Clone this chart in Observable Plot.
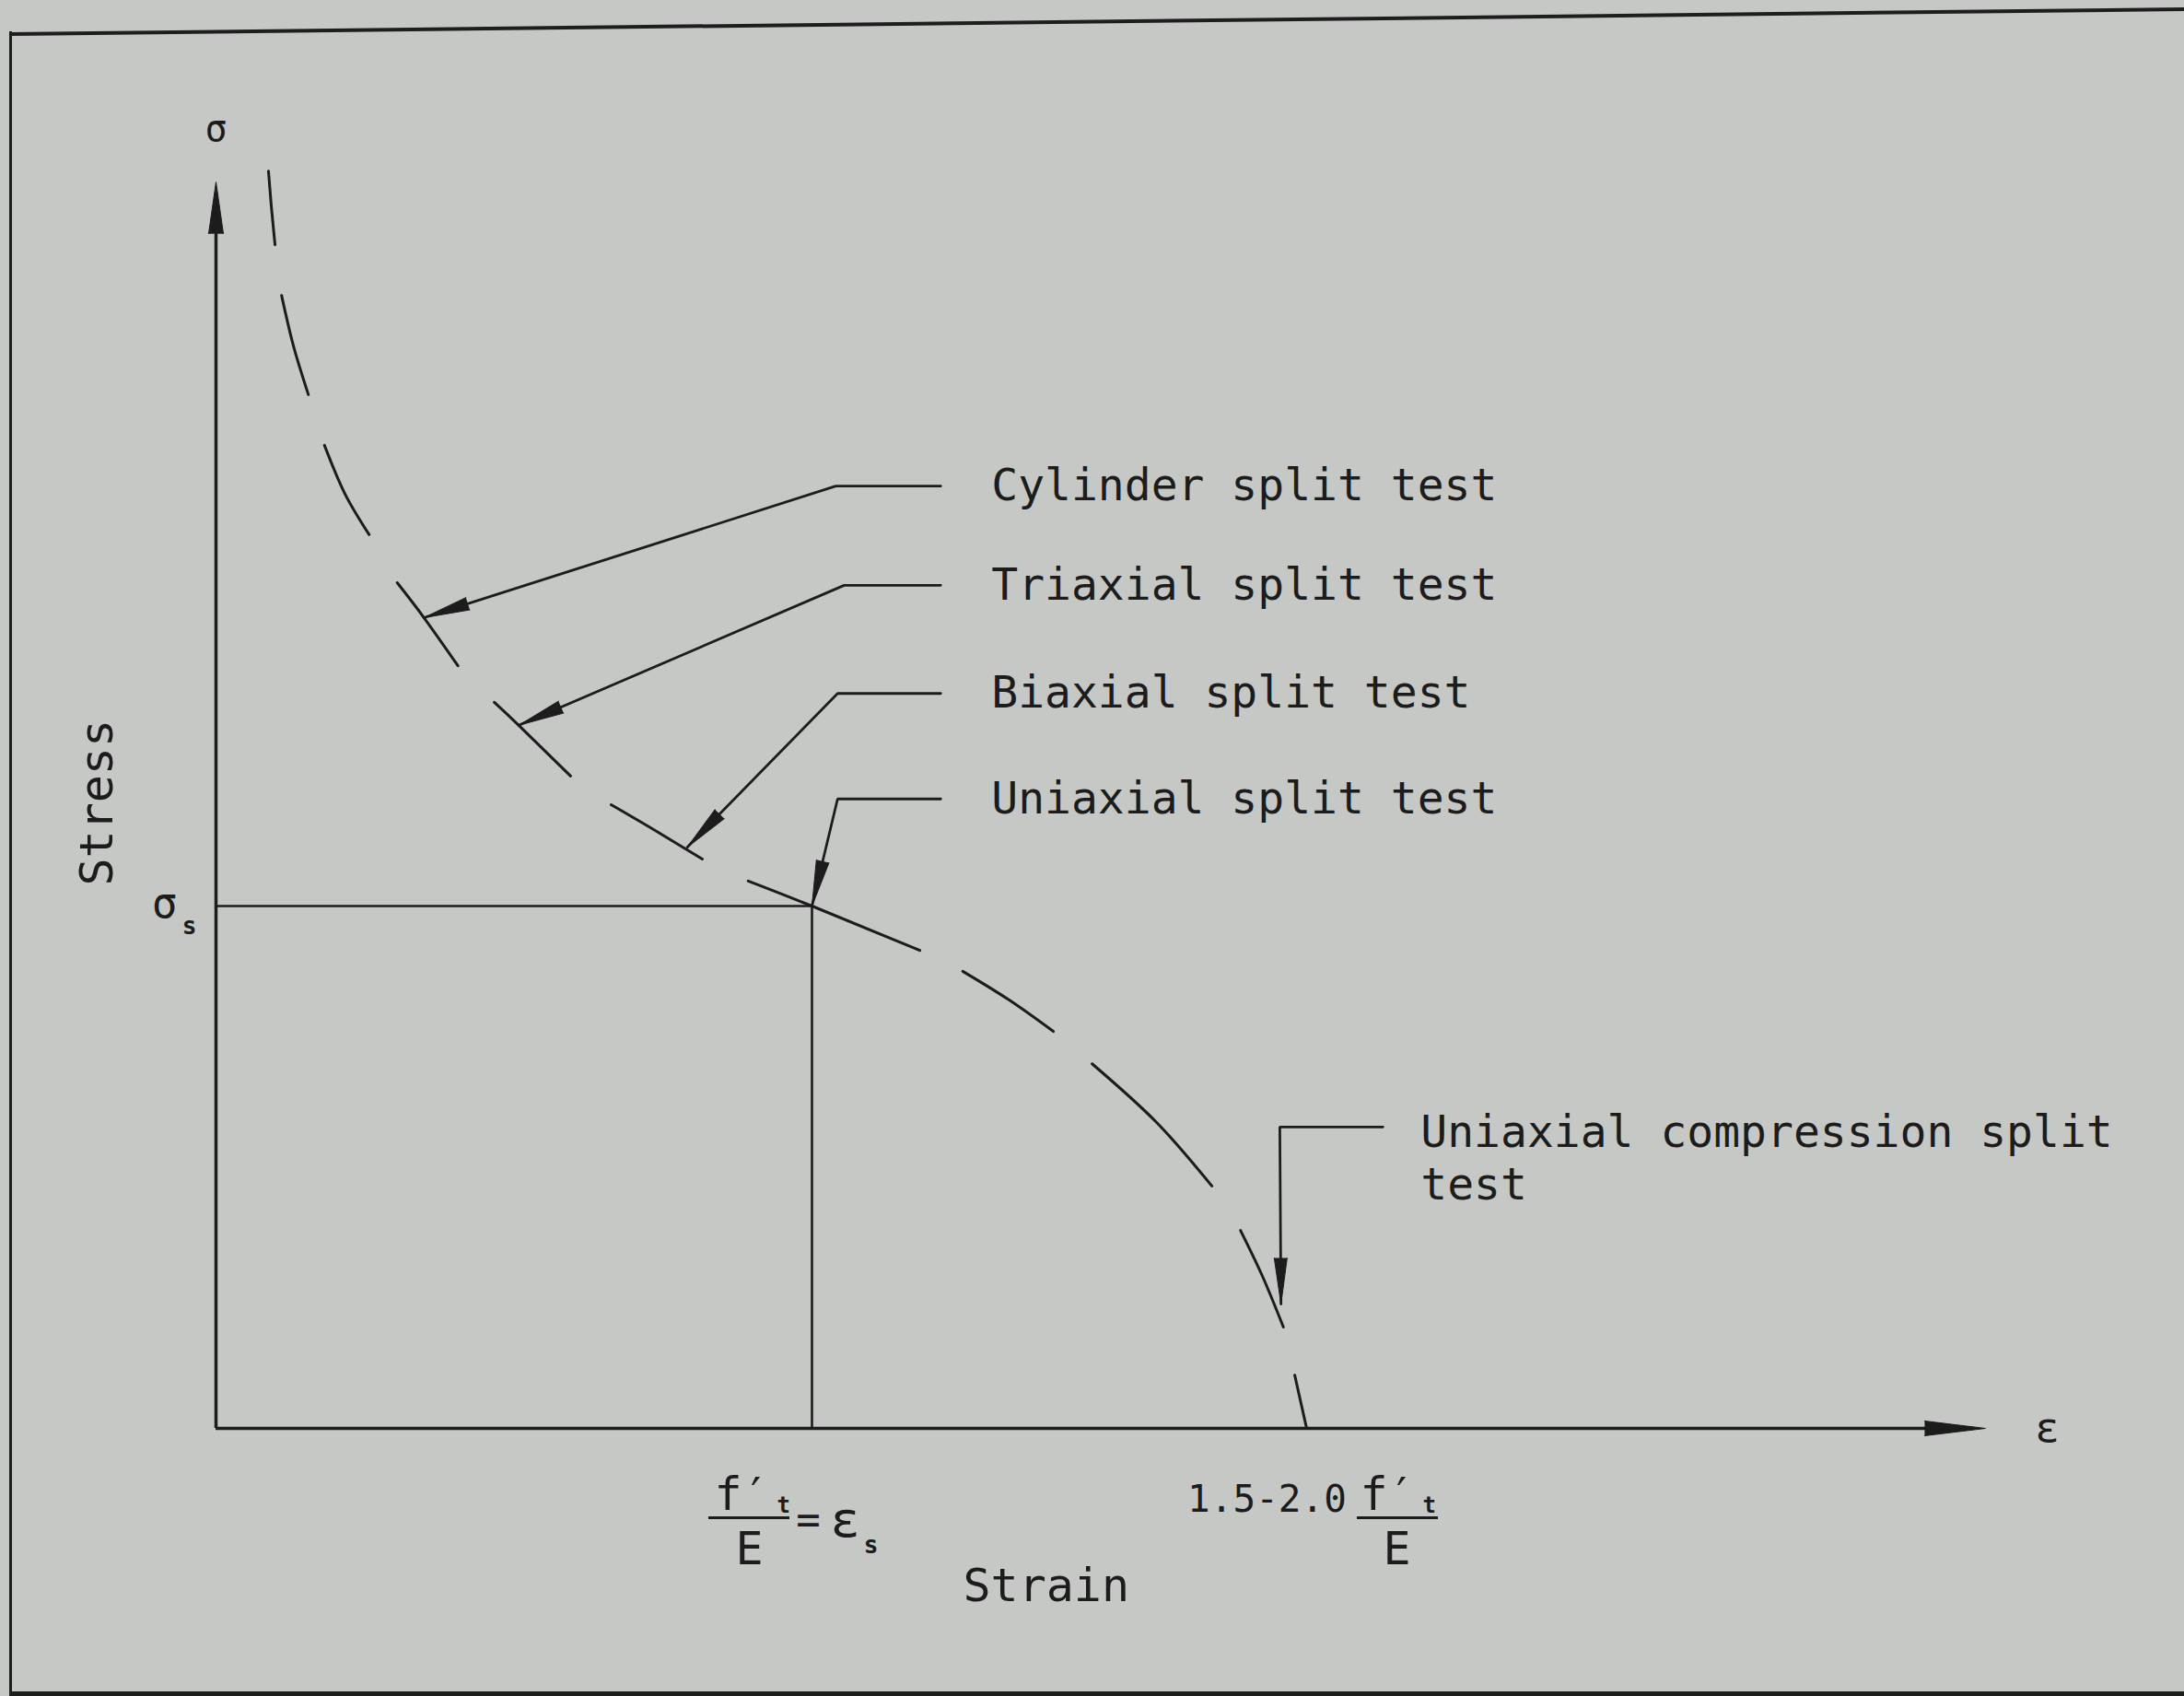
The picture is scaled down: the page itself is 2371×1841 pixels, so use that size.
<!DOCTYPE html>
<html>
<head>
<meta charset="utf-8">
<script src="https://cdn.jsdelivr.net/npm/d3@7"></script>
<script src="https://cdn.jsdelivr.net/npm/@observablehq/plot@0.6"></script>
<style>
  html, body { margin: 0; padding: 0; background: #c6c8c6; }
  #page { position: relative; width: 2371px; height: 1841px; overflow: hidden; background: #c6c8c6; }
  #chart { position: absolute; left: 0; top: 0; }
  .frame-left { position: absolute; left: 10px; top: 34px; width: 3px; height: 1807px; background: #1e1e1e; }
  .frame-top { position: absolute; left: 10px; top: 35px; width: 2420px; height: 4px; background: #1e1e1e; transform-origin: 0 0; transform: rotate(-0.656deg); }
  .frame-bottom { position: absolute; left: 10px; top: 1836px; width: 2371px; height: 5px; background: #1e1e1e; }
  g[aria-label="stress-title"] text { letter-spacing: 8px; }
</style>
</head>
<body>
<div id="page">
  <div class="frame-left"></div>
  <div class="frame-top"></div>
  <div class="frame-bottom"></div>
  <div id="chart"></div>
</div>
<script>
// ---- Data (strain in units of f't/E, stress in units of σs) ----
const sigmaS = 1;          // splitting stress σs
const epsS = 1;            // εs = f't/E
const strainAtZero = 1.83; // 1.5–2.0 f't/E
const yAxisTop = 2.386;
const xAxisEnd = 2.969;

// dashed stress–strain curve, one id per dash
const curveDash   = [1,1,1, 2,2,2, 3,3,3, 4,4,4, 5,5,5, 6,6,6, 7,7,7, 8,8,8, 9,9,9, 10,10,10, 11,11];
const curveStrain = [0.088,0.093,0.099, 0.110,0.130,0.155, 0.182,0.216,0.257, 0.304,0.349,0.406,
                     0.467,0.508,0.595, 0.663,0.735,0.816, 0.893,1.000,1.181, 1.253,1.331,1.405,
                     1.470,1.578,1.671, 1.719,1.756,1.791, 1.810,1.830];
const curveStress = [2.407,2.337,2.266, 2.169,2.072,1.979, 1.882,1.790,1.711, 1.619,1.552,1.460,
                     1.390,1.346,1.249, 1.194,1.146,1.090, 1.048,1.000,0.915, 0.875,0.820,0.760,
                     0.698,0.586,0.464, 0.379,0.291,0.194, 0.102,0.000];

// callouts: test names pointing at points of the curve
const calloutLabels = ["Cylinder split test", "Triaxial split test", "Biaxial split test",
                       "Uniaxial split test", "Uniaxial compression split\ntest"];
const calloutTipStrain   = [0.349, 0.508, 0.791, 1.000, 1.787];
const calloutTipStress   = [1.552, 1.346, 1.113, 1.000, 0.238];
const calloutElbowStrain = [1.040, 1.054, 1.043, 1.043, 1.785];
const calloutElbowStress = [1.804, 1.614, 1.407, 1.205, 0.577];
const calloutEndStrain   = [1.216, 1.216, 1.216, 1.216, 1.958];

// ---- Layout (pixels) ----
const W = 2371, H = 1841;
const X0 = 234, Y0 = 1550, KX = 647, KY = 567;
const ink = "#1c1c1c";
const font = "'DejaVu Sans Mono', monospace";

// tables built from the arrays
const curve = curveDash.map((d, i) => ({dash: d, strain: curveStrain[i], stress: curveStress[i]}));
const callouts = calloutLabels.map((t, i) => ({
  label: t, i,
  tx: calloutTipStrain[i], ty: calloutTipStress[i],
  ex: calloutElbowStrain[i], ey: calloutElbowStress[i],
  sx: calloutEndStrain[i]
}));
const leaders = callouts.flatMap(c => [
  {id: c.i, x: c.tx, y: c.ty},
  {id: c.i, x: c.ex, y: c.ey},
  {id: c.i, x: c.sx, y: c.ey}
]);
const angle = c => Math.atan2((c.tx - c.ex) * KX, (c.ty - c.ey) * KY) * 180 / Math.PI;

const T = (text, x, y, o) => Plot.text([text], {x: () => x, y: () => y, text: d => d,
  fontFamily: font, fill: ink, ...o});

const chart = Plot.plot({
  width: W, height: H,
  margin: 0,
  style: {background: "transparent", fontFamily: font, color: ink},
  x: {domain: [0, (W - X0) / KX], range: [X0, W], axis: null},
  y: {domain: [0, Y0 / KY], range: [Y0, 0], axis: null},
  marks: [
    // axes
    Plot.ruleY([0], {x1: 0, x2: xAxisEnd - 0.02, stroke: ink, strokeWidth: 3.5}),
    Plot.ruleX([0], {y1: 0, y2: yAxisTop - 0.02, stroke: ink, strokeWidth: 3.5}),
    Plot.vector([{x: xAxisEnd, y: 0, r: 90}], {x: "x", y: "y", rotate: "r", length: 66, r: 8,
      shape: "spike", anchor: "end", fill: ink, stroke: ink, strokeWidth: 1}),
    Plot.vector([{x: 0, y: yAxisTop, r: 0}], {x: "x", y: "y", rotate: "r", length: 56, r: 8,
      shape: "spike", anchor: "end", fill: ink, stroke: ink, strokeWidth: 1}),
    // σs / εs guides
    Plot.ruleY([sigmaS], {x1: 0, x2: epsS, stroke: ink, strokeWidth: 2.6}),
    Plot.ruleX([epsS], {y1: 0, y2: sigmaS, stroke: ink, strokeWidth: 2.6}),
    // dashed curve
    Plot.line(curve, {x: "strain", y: "stress", z: "dash", curve: "natural",
      stroke: ink, strokeWidth: 3, strokeLinecap: "round"}),
    // leaders
    Plot.line(leaders, {x: "x", y: "y", z: "id", stroke: ink, strokeWidth: 2.8, strokeLinejoin: "miter"}),
    Plot.vector(callouts, {x: "tx", y: "ty", rotate: angle, length: 50, r: 7,
      shape: "spike", anchor: "end", fill: ink, stroke: ink, strokeWidth: 1}),
    Plot.text(callouts.slice(0, 4), {x: "sx", y: "ey", text: "label", dx: 55,
      textAnchor: "start", lineAnchor: "middle", fontSize: 48, fontFamily: font, fill: ink}),
    Plot.text(callouts.slice(4), {x: "sx", y: "ey", text: "label", dx: 41, dy: -19,
      textAnchor: "start", lineAnchor: "top", lineHeight: 1.19, fontSize: 48, fontFamily: font, fill: ink}),
    // axis symbols and titles
    T("σ", 0, yAxisTop, {dy: -57, fontSize: 40}),
    T("ε", xAxisEnd, 0, {dx: 67, dy: 0, fontSize: 44}),
    Plot.text(["Stress"], {x: () => 0, y: () => 1.198, text: d => d, dx: -129, rotate: -90,
      fontSize: 50, fontFamily: font, fill: ink, ariaLabel: "stress-title"}),
    T("σ", 0, sigmaS, {dx: -56, dy: -2, fontSize: 46}),
    T("s", 0, sigmaS, {dx: -29, dy: 22, fontSize: 26, fontWeight: "bold"}),
    T("Strain", 1.393, 0, {dy: 171, fontSize: 50}),
    // εs tick label: f't / E = εs
    T("f′", epsS, 0, {dx: -106, dy: 72, fontSize: 50, textAnchor: "start"}),
    T("t", epsS, 0, {dx: -38, dy: 84, fontSize: 24, fontWeight: "bold", textAnchor: "start"}),
    Plot.ruleY([0], {x1: epsS - 112 / KX, x2: epsS - 24 / KX, dy: 97, stroke: ink, strokeWidth: 3}),
    T("E", epsS, 0, {dx: -68, dy: 131, fontSize: 50}),
    T("=", epsS, 0, {dx: -4, dy: 100, fontSize: 44}),
    T("ε", epsS, 0, {dx: 36, dy: 100, fontSize: 54}),
    T("s", epsS, 0, {dx: 64, dy: 127, fontSize: 26, fontWeight: "bold"}),
    // 1.5–2.0 f't/E tick label
    T("1.5-2.0", strainAtZero, 0, {dx: -43, dy: 77, fontSize: 41}),
    T("f′", strainAtZero, 0, {dx: 58, dy: 72, fontSize: 50, textAnchor: "start"}),
    T("t", strainAtZero, 0, {dx: 126, dy: 84, fontSize: 24, fontWeight: "bold", textAnchor: "start"}),
    Plot.ruleY([0], {x1: strainAtZero + 55 / KX, x2: strainAtZero + 143 / KX, dy: 97, stroke: ink, strokeWidth: 3}),
    T("E", strainAtZero, 0, {dx: 98, dy: 131, fontSize: 50})
  ]
});
document.getElementById("chart").appendChild(chart);
</script>
</body>
</html>
